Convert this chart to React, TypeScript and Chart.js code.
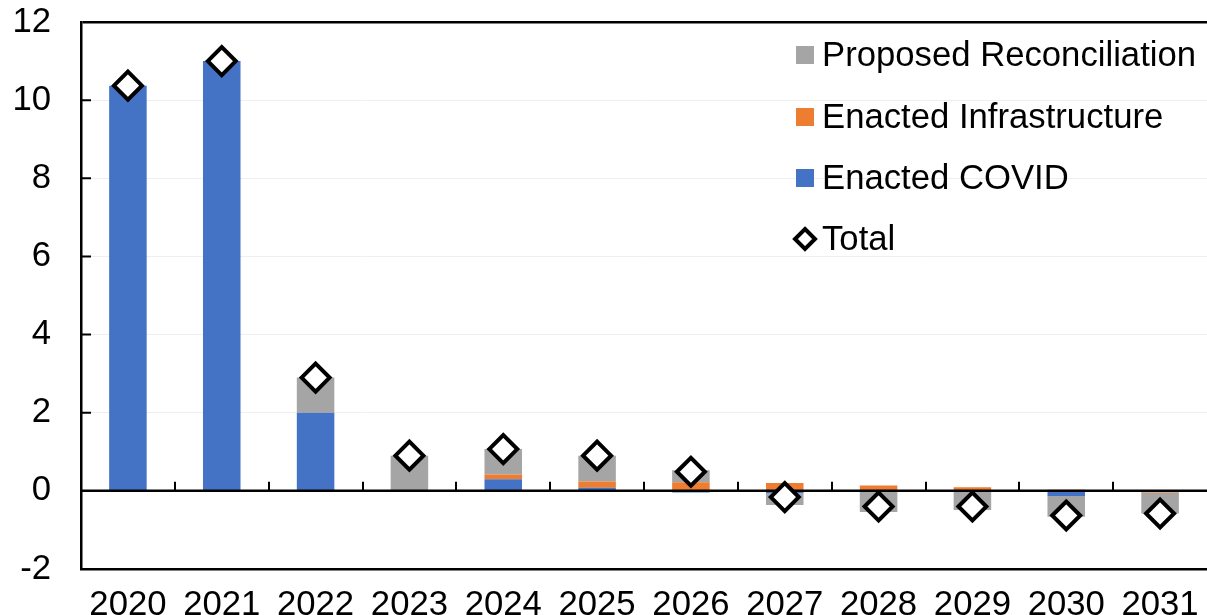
import React, { useEffect, useRef } from "react";
import { Chart, registerables } from "chart.js";

Chart.register(...registerables);

const years = ["2020", "2021", "2022", "2023", "2024", "2025", "2026", "2027", "2028", "2029", "2030", "2031"];
const enactedCovid = [10.37, 11.0, 2.0, 0, 0.3, 0.08, -0.04, -0.06, -0.02, 0, -0.13, 0];
const enactedInfrastructure = [0, 0, 0, 0, 0.12, 0.16, 0.22, 0.2, 0.14, 0.09, 0.03, -0.04];
const proposedReconciliation = [0, 0, 0.9, 0.9, 0.65, 0.66, 0.31, -0.3, -0.52, -0.49, -0.53, -0.54];
const totals = [10.37, 11.0, 2.9, 0.9, 1.07, 0.9, 0.49, -0.16, -0.4, -0.4, -0.63, -0.58];

const BLUE = "#4472C4";
const ORANGE = "#ED7D31";
const GRAY = "#A5A5A5";
const FONT = "'Liberation Sans', Arial, sans-serif";
const FONT_SIZE = 34.7;

// Zero line, category ticks on it, and inward ticks on the value axis
const axisDecor = {
  id: "axisDecor",
  beforeDatasetDraw(chart: any, args: any) {
    if (args.index !== 3) return;
    const { ctx, chartArea, scales } = chart;
    const y0 = scales.y.getPixelForValue(0);
    ctx.save();
    ctx.strokeStyle = "#000";
    ctx.lineWidth = 2.5;
    ctx.beginPath();
    ctx.moveTo(chartArea.left, y0);
    ctx.lineTo(chartArea.right, y0);
    ctx.stroke();
    ctx.lineWidth = 2;
    const n = years.length;
    const step = (chartArea.right - chartArea.left) / n;
    ctx.beginPath();
    for (let i = 1; i < n; i++) {
      const x = Math.round(chartArea.left + step * i);
      ctx.moveTo(x, y0);
      ctx.lineTo(x, y0 - 9);
    }
    for (const v of [2, 4, 6, 8, 10]) {
      const y = scales.y.getPixelForValue(v);
      ctx.moveTo(chartArea.left, y);
      ctx.lineTo(chartArea.left + 10, y);
    }
    ctx.stroke();
    ctx.restore();
  },
};

// Legend drawn inside the plot area, top right
const insideLegend = {
  id: "insideLegend",
  afterDraw(chart: any) {
    const { ctx } = chart;
    const items = [
      { label: "Proposed Reconciliation", color: GRAY, y: 55 },
      { label: "Enacted Infrastructure", color: ORANGE, y: 117 },
      { label: "Enacted COVID", color: BLUE, y: 178 },
      { label: "Total", color: null, y: 239 },
    ];
    ctx.save();
    ctx.font = `${FONT_SIZE}px ${FONT}`;
    ctx.textBaseline = "middle";
    ctx.textAlign = "left";
    for (const it of items) {
      if (it.color) {
        ctx.fillStyle = it.color;
        ctx.fillRect(796, it.y - 9, 18, 18);
      } else {
        const cx = 805;
        const r = 10;
        ctx.beginPath();
        ctx.moveTo(cx, it.y - r);
        ctx.lineTo(cx + r, it.y);
        ctx.lineTo(cx, it.y + r);
        ctx.lineTo(cx - r, it.y);
        ctx.closePath();
        ctx.fillStyle = "#fff";
        ctx.fill();
        ctx.lineWidth = 4;
        ctx.strokeStyle = "#000";
        ctx.stroke();
      }
      ctx.fillStyle = "#000";
      ctx.fillText(it.label, 822, it.y + 1);
    }
    ctx.restore();
  },
};

export default function App() {
  const ref = useRef<HTMLCanvasElement>(null);

  useEffect(() => {
    if (!ref.current) return;
    const chart = new Chart(ref.current, {
      type: "bar",
      data: {
        labels: years,
        datasets: [
          { type: "bar", label: "Enacted COVID", data: enactedCovid, backgroundColor: BLUE, stack: "s", order: 1 },
          { type: "bar", label: "Enacted Infrastructure", data: enactedInfrastructure, backgroundColor: ORANGE, stack: "s", order: 1 },
          { type: "bar", label: "Proposed Reconciliation", data: proposedReconciliation, backgroundColor: GRAY, stack: "s", order: 1 },
          {
            type: "line",
            label: "Total",
            data: totals,
            stack: "t",
            order: 0,
            showLine: false,
            pointStyle: "rectRot",
            pointRadius: 14,
            pointBorderWidth: 4,
            pointBackgroundColor: "#fff",
            pointBorderColor: "#000",
          } as any,
        ],
      },
      options: {
        responsive: false,
        animation: false,
        devicePixelRatio: 1,
        layout: { autoPadding: false, padding: { top: 22, left: 0, right: 0, bottom: 0 } },
        datasets: { bar: { categoryPercentage: 1, barPercentage: 0.4, borderWidth: 0 } },
        plugins: { legend: { display: false }, tooltip: { enabled: false } },
        scales: {
          x: {
            stacked: true,
            grid: { display: false, drawTicks: false },
            border: { display: true, color: "#000", width: 2.5 },
            ticks: { color: "#000", font: { family: FONT, size: FONT_SIZE }, padding: 16, maxRotation: 0, autoSkip: false },
            afterFit(scale: any) {
              scale.height = 46;
              scale.paddingLeft = 0;
              scale.paddingRight = 0;
            },
          },
          y: {
            stacked: true,
            min: -2,
            max: 12,
            ticks: { stepSize: 2, color: "#000", font: { family: FONT, size: FONT_SIZE }, padding: 30 },
            grid: {
              drawTicks: false,
              color: (c: any) => (c.tick && c.tick.value === 12 ? "#000" : c.tick && (c.tick.value === 0 || c.tick.value === -2) ? "rgba(0,0,0,0)" : "#efefef"),
              lineWidth: (c: any) => (c.tick && c.tick.value === 12 ? 2.5 : 1),
            },
            border: { display: true, color: "#000", width: 2.5 },
            afterFit(scale: any) {
              scale.width = 81;
              scale.paddingTop = 0;
              scale.paddingBottom = 0;
            },
          },
        },
      },
      plugins: [axisDecor, insideLegend],
    });
    return () => chart.destroy();
  }, []);

  return (
    <div style={{ position: "absolute", left: 0, top: 0, width: 1207, height: 615, background: "#fff" }}>
      <canvas ref={ref} width={1207} height={615} />
    </div>
  );
}
